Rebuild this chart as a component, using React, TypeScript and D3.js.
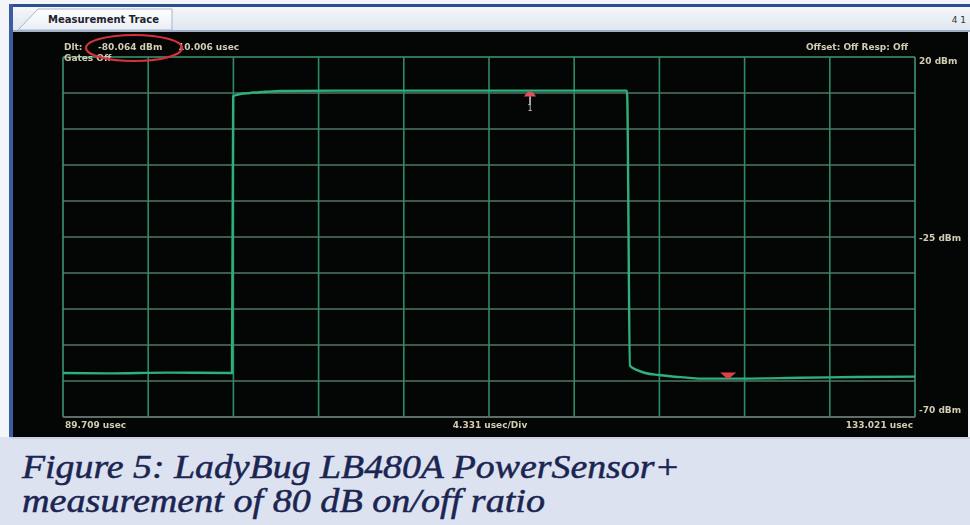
import React from "react";
import * as d3 from "d3";

// ---- data ----
const traceTime = [89.709, 92.0, 95.0, 98.3, 98.36, 98.6, 99.2, 100.0, 100.74, 103.5, 106.85, 110.0, 112.94, 116.0, 118.38, 118.53, 118.9, 119.3, 120.0, 120.57, 121.3, 122.09, 124.0, 127.17, 130.0, 133.021];
const traceDbm = [-59.0, -59.1, -58.9, -59.0, 10.2, 10.6, 11.0, 11.3, 11.5, 11.6, 11.6, 11.6, 11.6, 11.6, 11.6, -57.2, -58.3, -59.0, -59.5, -59.8, -60.1, -60.4, -60.4, -60.2, -60.0, -59.9];
const xTickLabels = ["89.709 usec", "4.331 usec/Div", "133.021 usec"];
const yTickValues = [20, -25, -70];
const yTickLabels = ["20 dBm", "-25 dBm", "-70 dBm"];
const markerTimes = [113.45, 123.52];
const markerDbm = [11.6, -60.4];
const headerLeft = ["Dlt:", "-80.064 dBm", "10.006 usec"];
const headerLine2 = "Gates Off";
const headerRight = "Offset: Off  Resp: Off";
const captionLines = ["Figure 5: LadyBug LB480A PowerSensor+", "measurement of 80 dB on/off ratio"];
const tabTitle = "Measurement Trace";

const W = 970;
const H = 525;
const plot = { left: 63, right: 915, top: 57, bottom: 417 };
const xMin = 89.709;
const xDiv = 4.331;
const nDiv = 10;

export default function App() {
  const x = d3.scaleLinear().domain([xMin, xMin + xDiv * nDiv]).range([plot.left, plot.right]);
  const y = d3.scaleLinear().domain([-70, 20]).range([plot.bottom, plot.top]);
  const vTicks = d3.range(nDiv + 1).map((i) => xMin + i * xDiv);
  const hTicks = d3.range(nDiv + 1).map((i) => 20 - i * 9);
  const pts: [number, number][] = traceTime.map((t, i) => [t, traceDbm[i]]);
  const line = d3
    .line<[number, number]>()
    .x((d) => x(d[0]))
    .y((d) => y(d[1]))
    .curve(d3.curveMonotoneX);
  const labelColor = "#d2ccb2";
  const font = "'DejaVu Sans', sans-serif";

  return (
    <svg
      width={W}
      height={H}
      viewBox={`0 0 ${W} ${H}`}
      style={{ position: "absolute", left: 0, top: 0, display: "block" }}
    >
      <defs>
        <linearGradient id="tabbar" x1="0" y1="0" x2="0" y2="1">
          <stop offset="0" stopColor="#f4f7fb" />
          <stop offset="1" stopColor="#dfe6ef" />
        </linearGradient>
        <linearGradient id="tab" x1="0" y1="0" x2="0" y2="1">
          <stop offset="0" stopColor="#ffffff" />
          <stop offset="1" stopColor="#e9eef5" />
        </linearGradient>
        <filter id="blur1">
          <feGaussianBlur stdDeviation="0.6" />
        </filter>
      </defs>
      {/* page background */}
      <rect x={0} y={0} width={W} height={H} fill="#f3f5f8" />
      {/* window top frame */}
      <rect x={10} y={4} width={W - 10} height={3} fill="#2c4f8f" />
      <rect x={10} y={7} width={W - 10} height={24} fill="url(#tabbar)" />
      <rect x={10} y={30} width={W - 10} height={2} fill="#9fb0c8" />
      {/* tab */}
      <path d="M 18 30 L 38 9 L 172 9 L 172 30 Z" fill="url(#tab)" stroke="#a8b4c6" strokeWidth={1} />
      <text x={48} y={23} fontFamily={font} fontSize={10} fontWeight="bold" fill="#20242c">
        {tabTitle}
      </text>
      <text x={966} y={23} textAnchor="end" fontFamily={font} fontSize={9} fill="#333">4 1</text>
      {/* left blue frame */}
      <rect x={9} y={4} width={4} height={434} fill="#3a5da0" />
      {/* black instrument area */}
      <rect x={13} y={32} width={W - 15} height={405} fill="#040505" />
      {/* grid */}
      <g filter="url(#blur1)">
        {hTicks.map((v, i) => (
          <line
            key={"h" + i}
            x1={plot.left}
            x2={plot.right}
            y1={y(v)}
            y2={y(v)}
            stroke={i === 0 ? "#3f9a72" : "#4f7866"}
            strokeWidth={1.6}
          />
        ))}
        {vTicks.map((t, i) => (
          <line
            key={"v" + i}
            x1={x(t)}
            x2={x(t)}
            y1={plot.top}
            y2={plot.bottom}
            stroke={i === 0 || i === nDiv ? "#3b9470" : "#2f8a63"}
            strokeWidth={1.6}
          />
        ))}
        <line x1={plot.left} x2={plot.right} y1={plot.bottom} y2={plot.bottom} stroke="#5b6e66" strokeWidth={2} />
      </g>
      {/* trace */}
      <path d={line(pts) || ""} fill="none" stroke="#2fb07c" strokeWidth={2.4} filter="url(#blur1)" />
      {/* markers */}
      <g filter="url(#blur1)">
        <path
          d={`M ${x(markerTimes[0]) - 6} ${y(markerDbm[0]) + 6} Q ${x(markerTimes[0])} ${y(markerDbm[0]) - 4} ${x(markerTimes[0]) + 6} ${y(markerDbm[0]) + 6} Z`}
          fill="#e0505a"
        />
        <line
          x1={x(markerTimes[0])}
          x2={x(markerTimes[0])}
          y1={y(markerDbm[0]) + 6}
          y2={y(markerDbm[0]) + 14}
          stroke="#d8d8d8"
          strokeWidth={1.5}
        />
        <text x={x(markerTimes[0])} y={y(markerDbm[0]) + 20} textAnchor="middle" fontFamily={font} fontSize={8} fill="#cfcfcf">
          1
        </text>
        <path
          d={`M ${x(markerTimes[1]) - 8} ${y(markerDbm[1]) - 6} L ${x(markerTimes[1]) + 8} ${y(markerDbm[1]) - 6} L ${x(markerTimes[1])} ${y(markerDbm[1]) + 1} Z`}
          fill="#e0404a"
        />
      </g>
      {/* header texts */}
      <g fontFamily={font} fontSize={9} fontWeight="bold" fill={labelColor} filter="url(#blur1)">
        <text x={64} y={50}>{headerLeft[0]}</text>
        <text x={98} y={50}>{headerLeft[1]}</text>
        <text x={178} y={50}>{headerLeft[2]}</text>
        <text x={64} y={61}>{headerLine2}</text>
        <text x={908} y={50} textAnchor="end">{headerRight}</text>
      </g>
      {/* red ellipse */}
      <ellipse cx={134} cy={48} rx={48} ry={13} fill="none" stroke="#d8303a" strokeWidth={2.2} filter="url(#blur1)" />
      {/* axis labels */}
      <g fontFamily={font} fontSize={9} fontWeight="bold" fill={labelColor} filter="url(#blur1)">
        {yTickValues.map((v, i) => (
          <text key={"yl" + i} x={919} y={i === 2 ? y(v) - 4 : i === 0 ? y(v) + 7 : y(v) + 4}>
            {yTickLabels[i]}
          </text>
        ))}
        <text x={plot.left + 2} y={428}>{xTickLabels[0]}</text>
        <text x={(plot.left + plot.right) / 2 + 1} y={428} textAnchor="middle">{xTickLabels[1]}</text>
        <text x={plot.right - 2} y={428} textAnchor="end">{xTickLabels[2]}</text>
      </g>
      {/* caption */}
      <rect x={0} y={437} width={W} height={H - 437} fill="#dde2f0" />
      <rect x={10} y={437} width={W - 10} height={2} fill="#c9d0e2" />
      <text
        x={22}
        y={478}
        fontFamily="'Liberation Serif', 'DejaVu Serif', serif"
        fontStyle="italic"
        fontSize={34}
        fill="#1b2552"
        stroke="#1b2552"
        strokeWidth={0.5}
        textLength={658}
        lengthAdjust="spacingAndGlyphs"
      >
        {captionLines[0]}
      </text>
      <text
        x={22}
        y={512}
        fontFamily="'Liberation Serif', 'DejaVu Serif', serif"
        fontStyle="italic"
        fontSize={34}
        fill="#1b2552"
        stroke="#1b2552"
        strokeWidth={0.5}
        textLength={523}
        lengthAdjust="spacingAndGlyphs"
      >
        {captionLines[1]}
      </text>
    </svg>
  );
}
